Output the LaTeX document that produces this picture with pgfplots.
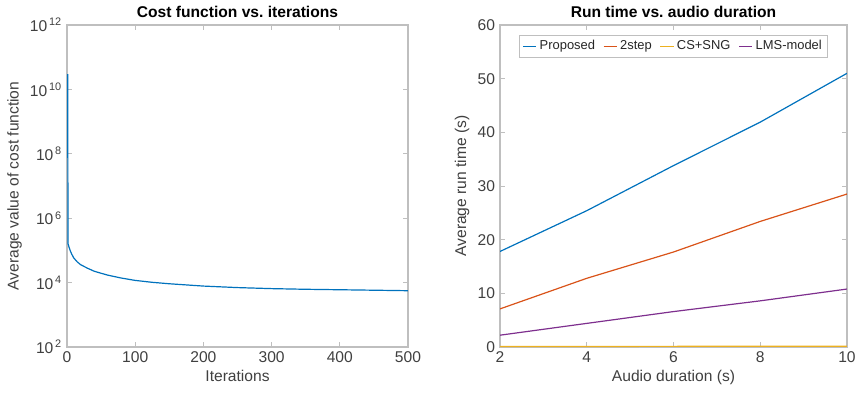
\documentclass[border=0pt]{standalone}
\usepackage{pgfplots}
\pgfplotsset{compat=1.18}
\usepackage{fontspec}
\setmainfont{Liberation Sans}
\definecolor{mblue}{rgb}{0,0.447,0.741}
\definecolor{morange}{rgb}{0.85,0.325,0.098}
\definecolor{myellow}{rgb}{0.929,0.694,0.125}
\definecolor{mpurple}{rgb}{0.494,0.184,0.556}
\definecolor{axgray}{gray}{0.75}
\definecolor{txtgray}{gray}{0.25}
\pgfplotsset{
  mstyle/.style={
    scale only axis,
    axis line style={axgray},
    every tick/.style={axgray, line width=0.5pt},
    major tick length=4pt,
    tick label style={font=\fontsize{11.7}{13}\selectfont, text=txtgray},
    label style={font=\fontsize{11.7}{13}\selectfont, text=txtgray},
    title style={font=\bfseries\fontsize{11.7}{13}\selectfont, yshift=-4pt},
    /pgf/number format/assume math mode=true,
    line width=0.9pt,
  }
}
\begin{document}
\begin{tikzpicture}
\path[use as bounding box] (-50.25pt,-36.75pt) rectangle (591.75pt,260.25pt);
\begin{axis}[mstyle,
  at={(0pt,0pt)}, anchor=south west,
  width=255.75pt, height=241.5pt,
  ymode=log,
  xmin=0, xmax=500, ymin=1e2, ymax=1e12,
  xtick={0,100,200,300,400,500},
  ytick={1e2,1e4,1e6,1e8,1e10,1e12},
  yticklabels={10\textsuperscript{\,2},10\textsuperscript{\,4},10\textsuperscript{\,6},10\textsuperscript{\,8},10\textsuperscript{\,10},10\textsuperscript{\,12}},
  yminorticks=false,
  title={Cost function vs.\ iterations},
  xlabel={Iterations},
  ylabel={Average value of cost function},
  ylabel style={yshift=-1pt},
  xlabel style={yshift=2pt},
]
\addplot[mblue, no marks] coordinates {
(1,3e10)(1.5,1.6e5)(2,1.5e5)(3,1.25e5)(5,9.5e4)(7,7.6e4)(10,5.8e4)(15,4.4e4)(20,3.6e4)(30,2.8e4)(40,2.25e4)(50,1.95e4)(60,1.7e4)(80,1.38e4)(100,1.17e4)(125,1.02e4)(150,9.2e3)(200,7.8e3)(250,7.0e3)(300,6.5e3)(350,6.2e3)(400,6.0e3)(450,5.8e3)(500,5.6e3)
};
\end{axis}
\begin{axis}[mstyle,
  at={(324.75pt,0pt)}, anchor=south west,
  width=260.25pt, height=241.5pt,
  xmin=2, xmax=10, ymin=0, ymax=60,
  xtick={2,4,6,8,10},
  ytick={0,10,20,30,40,50,60},
  title={Run time vs.\ audio duration},
  xlabel={Audio duration (s)},
  ylabel={Average run time (s)},
  ylabel style={yshift=-1pt},
  xlabel style={yshift=2pt},
  legend columns=4,
  legend style={at={(0.5,0.97)}, anchor=north, draw=axgray, font=\fontsize{9.7}{11}\selectfont, text=black!85, /tikz/every even column/.append style={column sep=4pt}, inner sep=2pt},
  legend image code/.code={\draw[#1, line width=0.9pt] (0cm,0cm) -- (0.35cm,0cm);},
]
\addplot[mblue, no marks] coordinates {(2,17.8)(4,25.4)(6,33.8)(8,41.9)(10,51.0)};
\addlegendentry{Proposed}
\addplot[morange, no marks] coordinates {(2,7.1)(4,12.8)(6,17.7)(8,23.4)(10,28.5)};
\addlegendentry{2step}
\addplot[myellow, no marks] coordinates {(2,0.1)(4,0.1)(6,0.12)(8,0.15)(10,0.15)};
\addlegendentry{CS+SNG}
\addplot[mpurple, no marks] coordinates {(2,2.2)(4,4.4)(6,6.6)(8,8.6)(10,10.8)};
\addlegendentry{LMS-model}
\end{axis}
\end{tikzpicture}
\end{document}
